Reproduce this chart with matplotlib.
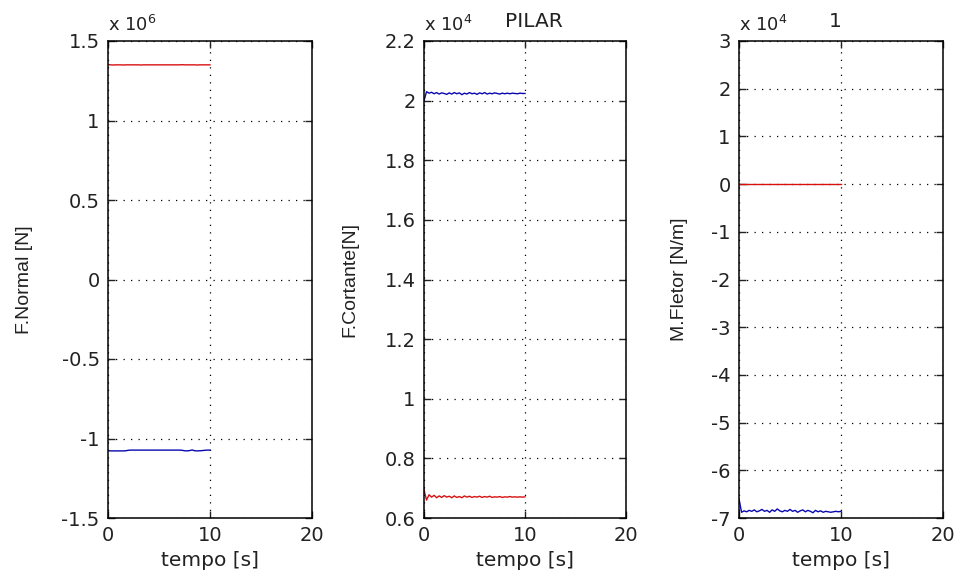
import matplotlib
matplotlib.use("Agg")
import matplotlib.pyplot as plt

plt.rcParams['font.family'] = ['DejaVu Sans']

# time samples [s]
tempo = [0.0, 0.25, 0.5, 0.75, 1.0, 1.25, 1.5, 1.75, 2.0, 2.25, 2.5, 2.75, 3.0, 3.25,
         3.5, 3.75, 4.0, 4.25, 4.5, 4.75, 5.0, 5.25, 5.5, 5.75, 6.0, 6.25, 6.5, 6.75,
         7.0, 7.25, 7.5, 7.75, 8.0, 8.25, 8.5, 8.75, 9.0, 9.25, 9.5, 9.75, 10.0]

# Panel 1: F.Normal (x 10^6)
normal_red = [1.352, 1.350, 1.349, 1.350, 1.350, 1.350, 1.349, 1.350, 1.350, 1.350, 1.350,
              1.350, 1.350, 1.349, 1.350, 1.350, 1.350, 1.350, 1.350, 1.350, 1.350, 1.350,
              1.350, 1.350, 1.350, 1.350, 1.350, 1.350, 1.350, 1.351, 1.350, 1.350, 1.350,
              1.350, 1.350, 1.349, 1.350, 1.350, 1.350, 1.350, 1.350]
normal_blue = [-1.077, -1.078, -1.078, -1.078, -1.078, -1.078, -1.078, -1.077, -1.074, -1.073,
               -1.073, -1.073, -1.073, -1.073, -1.073, -1.073, -1.073, -1.073, -1.073, -1.073,
               -1.073, -1.073, -1.073, -1.073, -1.073, -1.073, -1.073, -1.073, -1.073, -1.074,
               -1.077, -1.078, -1.076, -1.072, -1.077, -1.078, -1.077, -1.076, -1.074, -1.073,
               -1.073]

# Panel 2: F.Cortante (x 10^4)
cortante_blue = [2.000, 2.030, 2.025, 2.028, 2.023, 2.027, 2.022, 2.026, 2.024, 2.021, 2.026,
                 2.022, 2.027, 2.023, 2.026, 2.020, 2.025, 2.022, 2.027, 2.023, 2.025, 2.021,
                 2.026, 2.023, 2.027, 2.022, 2.025, 2.023, 2.026, 2.024, 2.022, 2.025, 2.023,
                 2.025, 2.023, 2.025, 2.024, 2.023, 2.025, 2.024, 2.024]
cortante_red = [0.695, 0.660, 0.678, 0.670, 0.676, 0.668, 0.674, 0.669, 0.675, 0.670, 0.673,
                0.668, 0.674, 0.669, 0.672, 0.668, 0.674, 0.670, 0.673, 0.669, 0.672, 0.670,
                0.673, 0.669, 0.672, 0.670, 0.673, 0.669, 0.671, 0.670, 0.672, 0.669, 0.671,
                0.670, 0.672, 0.670, 0.671, 0.670, 0.671, 0.670, 0.671]

# Panel 3: M.Fletor (x 10^4)
fletor_red = [0.0, 0.0, 0.0, 0.0, 0.0, 0.0, 0.0, 0.0, 0.0, 0.0, 0.0, 0.0, 0.0, 0.0,
              0.0, 0.0, 0.0, 0.0, 0.0, 0.0, 0.0, 0.0, 0.0, 0.0, 0.0, 0.0, 0.0, 0.0,
              0.0, 0.0, 0.0, 0.0, 0.0, 0.0, 0.0, 0.0, 0.0, 0.0, 0.0, 0.0, 0.0]
fletor_blue = [-6.60, -6.88, -6.85, -6.87, -6.84, -6.86, -6.83, -6.87, -6.85, -6.82, -6.86,
               -6.84, -6.88, -6.83, -6.86, -6.81, -6.85, -6.87, -6.84, -6.86, -6.82, -6.86,
               -6.84, -6.88, -6.85, -6.83, -6.87, -6.84, -6.86, -6.89, -6.84, -6.87, -6.85,
               -6.88, -6.86, -6.87, -6.88, -6.87, -6.86, -6.87, -6.86]

xlim = (0, 20)
xticks = [0, 10, 20]
panels = [
    dict(red=normal_red, blue=normal_blue, ylim=(-1.5, 1.5),
         yticks=[-1.5, -1, -0.5, 0, 0.5, 1, 1.5],
         yticklabels=['-1.5', '-1', '-0.5', '0', '0.5', '1', '1.5'],
         ylabel='F.Normal [N]', ylabx=-0.368, exp='6', title='', titlex=0.5,
         rect=[108, 41, 312, 518]),
    dict(red=cortante_red, blue=cortante_blue, ylim=(0.6, 2.2),
         yticks=[0.6, 0.8, 1.0, 1.2, 1.4, 1.6, 1.8, 2.0, 2.2],
         yticklabels=['0.6', '0.8', '1', '1.2', '1.4', '1.6', '1.8', '2', '2.2'],
         ylabel='F.Cortante[N]', ylabx=-0.327, exp='4', title='PILAR', titlex=0.545,
         rect=[424, 41, 626, 518]),
    dict(red=fletor_red, blue=fletor_blue, ylim=(-7, 3),
         yticks=[-7, -6, -5, -4, -3, -2, -1, 0, 1, 2, 3],
         yticklabels=['-7', '-6', '-5', '-4', '-3', '-2', '-1', '0', '1', '2', '3'],
         ylabel='M.Fletor [N/m]', ylabx=-0.25, exp='4', title='1', titlex=0.47,
         rect=[739, 41, 943, 518]),
]

W, H = 959, 572
fig = plt.figure(figsize=(W / 100, H / 100), dpi=100)

for p in panels:
    x0, y0, x1, y1 = p['rect']
    ax = fig.add_axes([x0 / W, 1 - y1 / H, (x1 - x0) / W, (y1 - y0) / H])
    ax.plot(tempo, p['red'], color='#d81010', lw=1.0)
    ax.plot(tempo, p['blue'], color='#0808b0', lw=1.0)
    ax.set_xlim(*xlim)
    ax.set_ylim(*p['ylim'])
    ax.set_xticks(xticks)
    ax.set_xticklabels([str(v) for v in xticks])
    ax.set_yticks(p['yticks'])
    ax.set_yticklabels(p['yticklabels'])
    ax.grid(True, color='black', linestyle=(0, (1, 5)), linewidth=0.9)
    ax.tick_params(direction='in', top=True, right=True, length=5, width=1,
                   labelsize=14, colors='#222222')
    ax.tick_params(axis='y', pad=6)
    ax.tick_params(axis='x', pad=6)
    for s in ax.spines.values():
        s.set_linewidth(1.1)
    ax.set_xlabel('tempo [s]', fontsize=14.5, labelpad=4, color='#222222')
    ax.set_ylabel(p['ylabel'], fontsize=14, family='Liberation Sans', color='#222222')
    ax.yaxis.set_label_coords(p['ylabx'], 0.5)
    ax.text(0.0, 1.021, r'x 10$^{%s}$' % p['exp'], transform=ax.transAxes,
            fontsize=13, ha='left', va='baseline', color='#222222')
    if p['title']:
        ax.text(p['titlex'], 1.029, p['title'], transform=ax.transAxes,
                fontsize=14.5, ha='center', va='baseline', color='#222222')

fig.savefig('out.png', dpi=100)
